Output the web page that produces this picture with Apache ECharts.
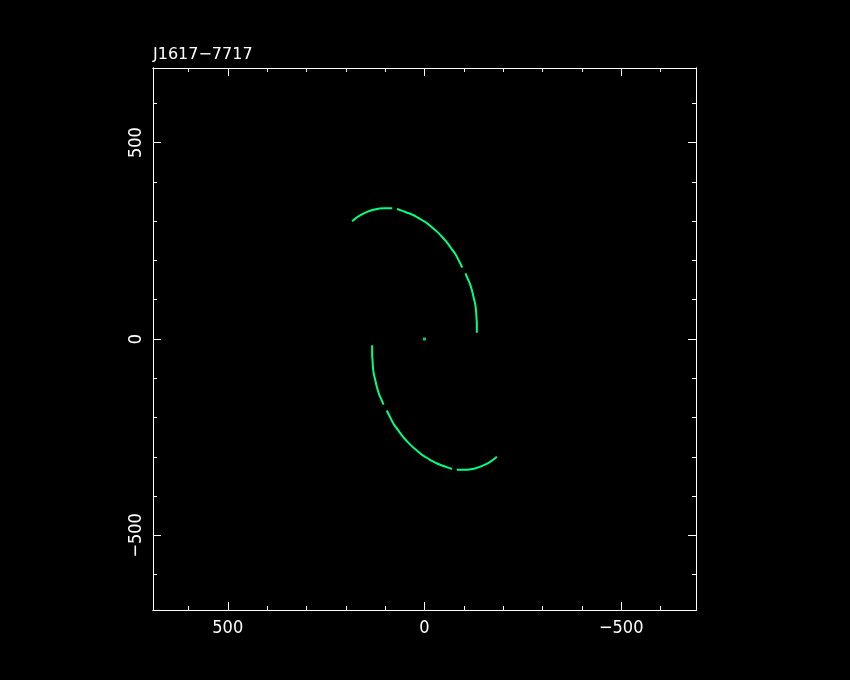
<!DOCTYPE html>
<html>
<head>
<meta charset="utf-8">
<script src="https://cdn.jsdelivr.net/npm/echarts@6/dist/echarts.min.js"></script>
<style>
html,body{margin:0;padding:0;background:#000;}
#chart{width:850px;height:680px;background:#000;}
</style>
</head>
<body>
<div id="chart"></div>
<script>
const chartTitle = 'J1617\u22127717';
const axisMin = -690;
const axisMax = 690;
const majorTicks = [-500, 0, 500];
const minorTicks = [-600, -500, -400, -300, -200, -100, 0, 100, 200, 300, 400, 500, 600];

// upper arc, three segments (u, v)
const upperSeg1 = [[184, 300], [165, 314], [147, 323], [130, 329], [115, 332], [100, 333], [82, 333]];
const upperSeg2 = [[70, 331], [58, 327], [45, 322], [32, 317], [20, 311], [7, 303], [-6, 295], [-18, 285], [-31, 274], [-44, 261], [-56, 247], [-67, 232], [-78, 217], [-88, 198], [-96, 182]];
const upperSeg3 = [[-104, 167], [-110, 153], [-116, 139], [-121, 122], [-125, 105], [-129, 88], [-131, 71], [-132, 55], [-133, 40], [-133, 16]];
// lower arc, three segments (u, v)
const lowerSeg1 = [[133, -16], [133, -40], [132, -55], [131, -71], [129, -88], [125, -105], [121, -122], [116, -139], [110, -153], [104, -167]];
const lowerSeg2 = [[96, -182], [88, -198], [78, -217], [67, -232], [56, -247], [44, -261], [31, -274], [18, -285], [6, -295], [-7, -303], [-20, -311], [-32, -317], [-45, -322], [-58, -327], [-70, -331]];
const lowerSeg3 = [[-82, -333], [-100, -333], [-115, -332], [-130, -329], [-147, -323], [-165, -314], [-184, -300]];
const centerPoint = [[0, 0]];

const segments = [upperSeg1, upperSeg2, upperSeg3, lowerSeg1, lowerSeg2, lowerSeg3];
const trackColor = '#00ff80';
const titleFont = 'DejaVu Sans';
const labelFont = "'DejaVu Sans Condensed', 'Liberation Sans Narrow', 'DejaVu Sans'";
const fmt = v => String(v).replace('-', '\u2212');

function xAx(gridIndex, position, ticks, len, showLabel) {
  return {
    type: 'value', gridIndex, position, min: axisMin, max: axisMax, inverse: true,
    axisLine: { show: true, onZero: false, lineStyle: { color: '#fff', width: 1 } },
    axisTick: { show: true, inside: true, length: len, customValues: ticks, lineStyle: { color: '#fff', width: 1 } },
    axisLabel: { show: showLabel, customValues: majorTicks, color: '#fff', fontSize: 18, fontFamily: labelFont, margin: 9, formatter: fmt },
    splitLine: { show: false }
  };
}
function yAx(gridIndex, position, ticks, len, showLabel) {
  return {
    type: 'value', gridIndex, position, min: axisMin, max: axisMax,
    axisLine: { show: true, onZero: false, lineStyle: { color: '#fff', width: 1 } },
    axisTick: { show: true, inside: true, length: len, customValues: ticks, lineStyle: { color: '#fff', width: 1 } },
    axisLabel: { show: showLabel, customValues: majorTicks, rotate: 90, color: '#fff', fontSize: 18, fontFamily: labelFont, margin: 8, formatter: fmt },
    splitLine: { show: false }
  };
}

const gridBox = { left: 153, top: 68, width: 543, height: 542 };
const series = segments.map(seg => ({
  type: 'line', xAxisIndex: 0, yAxisIndex: 0, data: seg, smooth: true,
  symbol: 'none', showSymbol: false, lineStyle: { color: trackColor, width: 2 }
}));
series.push({
  type: 'scatter', xAxisIndex: 0, yAxisIndex: 0, data: centerPoint,
  symbol: 'rect', symbolSize: 3, itemStyle: { color: trackColor }
});

const chart = echarts.init(document.getElementById('chart'), null, { renderer: 'canvas' });
chart.setOption({
  animation: false,
  backgroundColor: '#000',
  title: { text: chartTitle, left: 153, top: 47, padding: 0, textStyle: { color: '#fff', fontSize: 16, fontWeight: 'normal', fontFamily: titleFont } },
  grid: [Object.assign({}, gridBox), Object.assign({}, gridBox)],
  xAxis: [
    xAx(0, 'bottom', majorTicks, 8, true),
    xAx(0, 'top', majorTicks, 8, false),
    xAx(1, 'bottom', minorTicks, 4, false),
    xAx(1, 'top', minorTicks, 4, false)
  ],
  yAxis: [
    yAx(0, 'left', majorTicks, 8, true),
    yAx(0, 'right', majorTicks, 8, false),
    yAx(1, 'left', minorTicks, 4, false),
    yAx(1, 'right', minorTicks, 4, false)
  ],
  series
});
</script>
</body>
</html>
